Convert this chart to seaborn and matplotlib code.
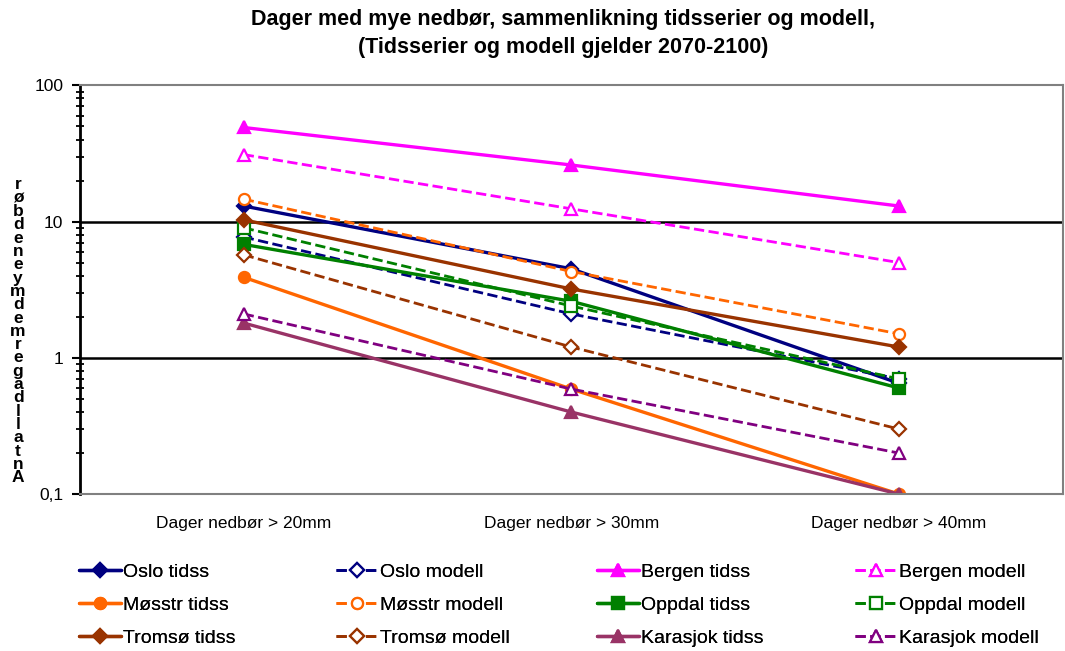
import matplotlib
matplotlib.use("Agg")
import matplotlib.pyplot as plt
import seaborn as sns
from matplotlib.ticker import LogLocator, FixedLocator, NullFormatter

# categories on the x axis
categories = ["Dager nedbør > 20mm", "Dager nedbør > 30mm", "Dager nedbør > 40mm"]

# values (days per year)
oslo_tidss = [13.0, 4.5, 0.65]
oslo_modell = [7.7, 2.1, 0.7]
bergen_tidss = [49.0, 26.0, 13.0]
bergen_modell = [31.0, 12.4, 5.0]
mosstr_tidss = [3.9, 0.59, 0.1]
mosstr_modell = [14.6, 4.3, 1.5]
oppdal_tidss = [6.8, 2.6, 0.6]
oppdal_modell = [9.0, 2.4, 0.7]
tromso_tidss = [10.3, 3.2, 1.2]
tromso_modell = [5.7, 1.2, 0.3]
karasjok_tidss = [1.8, 0.4, 0.1]
karasjok_modell = [2.1, 0.59, 0.2]

series = [
    ("Oslo tidss", oslo_tidss, "#000080", "-", "D", True),
    ("Oslo modell", oslo_modell, "#000080", "--", "D", False),
    ("Bergen tidss", bergen_tidss, "#FF00FF", "-", "^", True),
    ("Bergen modell", bergen_modell, "#FF00FF", "--", "^", False),
    ("Møsstr tidss", mosstr_tidss, "#FF6600", "-", "o", True),
    ("Møsstr modell", mosstr_modell, "#FF6600", "--", "o", False),
    ("Oppdal tidss", oppdal_tidss, "#008000", "-", "s", True),
    ("Oppdal modell", oppdal_modell, "#008000", "--", "s", False),
    ("Tromsø tidss", tromso_tidss, "#993300", "-", "D", True),
    ("Tromsø modell", tromso_modell, "#993300", "--", "D", False),
    ("Karasjok tidss", karasjok_tidss, "#993366", "-", "^", True),
    ("Karasjok modell", karasjok_modell, "#800080", "--", "^", False),
]

sns.set_style("white")
plt.rcParams["font.family"] = ["Liberation Sans", "DejaVu Sans"]
plt.rcParams.update({"text.color": "black", "xtick.color": "black",
                     "ytick.color": "black", "axes.labelcolor": "black"})

fig = plt.figure(figsize=(10.65, 6.51), dpi=100)
ax = fig.add_axes([0.075, 0.241, 0.923, 0.628])

for name, vals, color, ls, mk, filled in series:
    lw = 2.4 if ls == "-" else 2.0
    sns.lineplot(x=categories, y=vals, ax=ax, color=color, linestyle=ls,
                 linewidth=lw, marker=mk, markersize=8 if mk != "D" else 7,
                 markerfacecolor=color if filled else "white",
                 markeredgecolor=color, markeredgewidth=1.6, label=name)

ax.set_yscale("log")
ax.set_ylim(0.1, 100)
ax.set_xlim(-0.5, 2.5)
ax.yaxis.set_major_locator(FixedLocator([0.1, 1, 10, 100]))
ax.set_yticklabels(["0,1", "1", "10", "100"])
ax.yaxis.set_minor_locator(LogLocator(base=10, subs=range(2, 10)))
ax.yaxis.set_minor_formatter(NullFormatter())
ax.tick_params(axis="y", which="major", direction="out", length=6, width=1.5,
               labelsize=12.5, left=True, pad=6)
ax.tick_params(axis="y", which="minor", direction="inout", length=6, width=1.3, left=True)
ax.tick_params(axis="x", length=0, labelsize=12.5, pad=16)

for y in [1, 10]:
    ax.axhline(y, color="black", linewidth=1.8, zorder=0)

ax.spines["left"].set_color("black")
ax.spines["left"].set_linewidth(2)
for s in ["top", "right", "bottom"]:
    ax.spines[s].set_color("#808080")
    ax.spines[s].set_linewidth(1.5)
ax.set_xlabel("")
ax.set_ylabel("")

fig.text(0.529, 0.986, "Dager med mye nedbør, sammenlikning tidsserier og modell,\n(Tidsserier og modell gjelder 2070-2100)",
         ha="center", va="top", fontsize=15.5, fontweight="bold", linespacing=1.45)

ylabel = "Antall dager med mye nedbør".replace(" ", "")
fig.text(0.017, 0.491, "\n".join(reversed(ylabel)), ha="center", va="center",
         fontsize=12.5, fontweight="bold", linespacing=0.86)

h, l = ax.get_legend_handles_labels()
ax.get_legend().remove()
col_x = [79, 336, 597, 855]
for j, x in enumerate(col_x):
    idx = [j, j + 4, j + 8]
    leg = fig.legend([h[i] for i in idx], [l[i] for i in idx], ncol=1,
                     loc="center left", bbox_to_anchor=(x / 1065, 1 - 605 / 651),
                     frameon=False, fontsize=14, handlelength=2.15,
                     handletextpad=0.1, labelspacing=0.78,
                     borderpad=0, borderaxespad=0)
    fig.add_artist(leg)

fig.savefig("out.png", dpi=100)
